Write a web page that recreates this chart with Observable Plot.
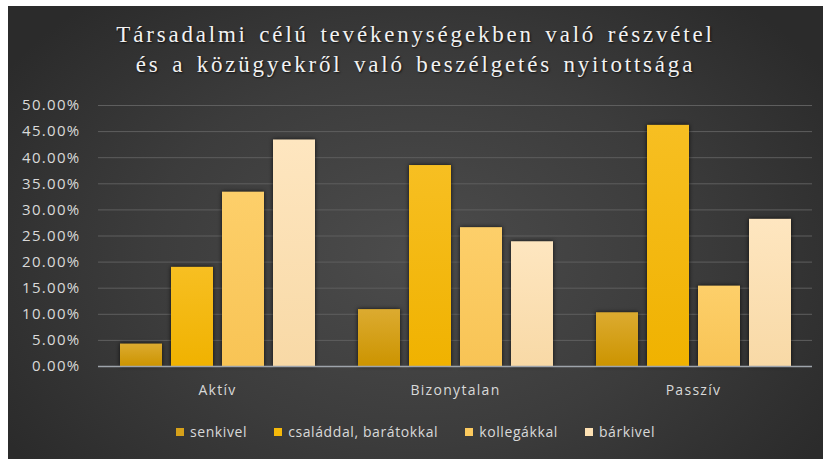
<!DOCTYPE html>
<html>
<head>
<meta charset="utf-8">
<script src="https://cdn.jsdelivr.net/npm/d3@7"></script>
<script src="https://cdn.jsdelivr.net/npm/@observablehq/plot@0.6"></script>
<style>
  html, body { margin: 0; padding: 0; background: #ffffff; }
  #panel {
    position: absolute; left: 8px; top: 6px; width: 815px; height: 453px;
    background: radial-gradient(ellipse 60% 75% at 50% 55%, #4c4c4c 0%, #3c3c3c 55%, #2b2b2b 100%);
    overflow: hidden;
  }
  #title {
    box-sizing: border-box; height: 84px; padding-top: 14px;
    text-align: center; color: #f2f2f2;
    font-family: "Liberation Serif", "DejaVu Serif", serif;
    font-size: 23px; line-height: 30px; letter-spacing: 2.8px; word-spacing: 3px;
    text-shadow: 1px 1px 2px rgba(0,0,0,0.7);
  }
  #legend {
    display: flex; justify-content: center; gap: 27px; margin-top: 16px;
    font-family: "Open Sans", sans-serif; font-size: 14px; color: #d9d9d9; letter-spacing: 0.6px;
  }
  #legend .item { display: flex; align-items: center; }
  #legend .sw { width: 8px; height: 8px; margin-right: 6px; }
  svg { display: block; }
  #chart svg text { letter-spacing: 1.3px; }
</style>
</head>
<body>
<div id="panel">
  <div id="title">Társadalmi célú tevékenységekben való részvétel<br>és a közügyekről való beszélgetés nyitottsága</div>
  <div id="chart"></div>
  <div id="legend"></div>
</div>
<script>
const groups = ["Aktív", "Bizonytalan", "Passzív"];
const series = ["senkivel", "családdal, barátokkal", "kollegákkal", "bárkivel"];
const senkivel = [0.043, 0.109, 0.103];
const csaladdal = [0.190, 0.385, 0.462];
const kollegakkal = [0.334, 0.266, 0.154];
const barkivel = [0.434, 0.239, 0.282];
const yTicks = [0, 0.05, 0.10, 0.15, 0.20, 0.25, 0.30, 0.35, 0.40, 0.45, 0.50];
const seriesColors = ["#d6a11a", "#f5b90a", "#fcca5e", "#fde1b4"];
const gradTop = ["#dcab30", "#f7bf22", "#fdcf6a", "#fee6c0"];
const gradBottom = ["#cc9400", "#f0b200", "#f8c455", "#f8d9a6"];

const valuesBySeries = [senkivel, csaladdal, kollegakkal, barkivel];
const data = [];
groups.forEach((g, gi) => {
  series.forEach((s, si) => {
    data.push({group: g, series: s, value: valuesBySeries[si][gi]});
  });
});
const gradIds = series.map((s, i) => `url(#bargrad${i})`);

const chart = Plot.plot({
  width: 815,
  height: 316,
  marginLeft: 89,
  marginRight: 10,
  marginTop: 15,
  marginBottom: 40,
  style: {background: "transparent", color: "#d9d9d9", fontFamily: "Open Sans, sans-serif", fontSize: "14px"},
  fx: {domain: groups, padding: 0, label: null, axis: "bottom", tickSize: 0, tickPadding: 19},
  x: {domain: series, paddingInner: 0.18, paddingOuter: 0.41, axis: null},
  y: {domain: [0, 0.5], label: null},
  color: {domain: series, range: gradIds},
  marks: [
    Plot.ruleY(yTicks.filter(d => d > 0), {stroke: "#5e5e5e", strokeWidth: 1}),
    Plot.axisY({ticks: yTicks, tickFormat: d3.format(".2%"), tickSize: 0, tickPadding: 18, fontSize: 15, label: null}),
    Plot.barY(data, {fx: "group", x: "series", y: "value", fill: "series", inset: 0}),
    Plot.ruleY([0], {stroke: "#9ea4ab", strokeWidth: 1.5})
  ]
});

// gradient definitions
const svgNS = "http://www.w3.org/2000/svg";
const defs = document.createElementNS(svgNS, "defs");
series.forEach((s, i) => {
  const lg = document.createElementNS(svgNS, "linearGradient");
  lg.setAttribute("id", `bargrad${i}`);
  lg.setAttribute("x1", "0"); lg.setAttribute("y1", "0");
  lg.setAttribute("x2", "0"); lg.setAttribute("y2", "1");
  const s1 = document.createElementNS(svgNS, "stop");
  s1.setAttribute("offset", "0%"); s1.setAttribute("stop-color", gradTop[i]);
  const s2 = document.createElementNS(svgNS, "stop");
  s2.setAttribute("offset", "100%"); s2.setAttribute("stop-color", gradBottom[i]);
  lg.appendChild(s1); lg.appendChild(s2);
  defs.appendChild(lg);
});
chart.insertBefore(defs, chart.firstChild);
chart.querySelectorAll("g[aria-label='bar'] rect").forEach(r => {
  r.style.filter = "drop-shadow(0px 0px 2px rgba(0,0,0,0.75))";
});

document.getElementById("chart").appendChild(chart);

const legend = document.getElementById("legend");
series.forEach((s, i) => {
  const item = document.createElement("div");
  item.className = "item";
  const sw = document.createElement("span");
  sw.className = "sw";
  sw.style.background = seriesColors[i];
  const label = document.createElement("span");
  label.textContent = s;
  item.appendChild(sw); item.appendChild(label);
  legend.appendChild(item);
});
</script>
</body>
</html>
